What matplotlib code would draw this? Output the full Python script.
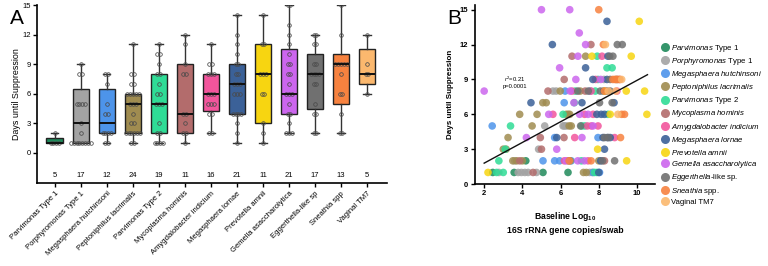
import numpy as np
import matplotlib
matplotlib.use("Agg")
import matplotlib.pyplot as plt
from matplotlib.lines import Line2D

plt.rcParams['font.family'] = ['Liberation Sans', 'DejaVu Sans']
plt.rcParams['mathtext.fontset'] = 'custom'
plt.rcParams['mathtext.rm'] = 'Liberation Sans'
plt.rcParams['mathtext.it'] = 'Liberation Sans:italic'
plt.rcParams['mathtext.bf'] = 'Liberation Sans:bold'

# ---- data ----
taxa = ['Parvimonas Type 1', 'Porphyromonas Type 1', 'Megasphaera hutchinsoni',
        'Peptoniphilus lacrimalis', 'Parvimonas Type 2', 'Mycoplasma hominis',
        'Amygdalobacter indicium', 'Megasphaera lornae', 'Prevotella amnii',
        'Gemella asaccharolytica', 'Eggerthella-like sp', 'Sneathia spp', 'Vaginal TM7']
legend_labels = [r'$\mathit{Parvimonas}$ Type 1', r'$\mathit{Porphyromonas}$ Type 1',
                 r'$\mathit{Megasphaera\ hutchinsoni}$', r'$\mathit{Peptoniphilus\ lacrimalis}$',
                 r'$\mathit{Parvimonas}$ Type 2', r'$\mathit{Mycoplasma\ hominis}$',
                 r'$\mathit{Amygdalobacter\ indicium}$', r'$\mathit{Megasphaera\ lornae}$',
                 r'$\mathit{Prevotella\ amnii}$', r'$\mathit{Gemella\ asaccharolytica}$',
                 r'$\mathit{Eggerthella}$-like sp.', r'$\mathit{Sneathia}$ spp.', 'Vaginal TM7']
counts = [5, 17, 12, 24, 19, 11, 16, 21, 11, 21, 17, 13, 5]
colors = ['#1f8a5b', '#a3a3a3', '#4d94ea', '#a08c50', '#2fdc96', '#b36c6c', '#f2559c',
          '#3b6198', '#f7d511', '#cc66ee', '#707070', '#f7823f', '#fbb86e']

# box stats: whisker low, q1, median, q3, whisker high
box_lo = [1, 1, 1, 1, 1, 1, 2, 1, 1, 2, 2, 2, 6]
box_q1 = [1, 1, 2, 2, 2, 2, 4.25, 4, 3, 4, 4.5, 5, 7]
box_med = [1, 3, 3, 5, 5, 4, 6, 7, 8, 6, 8, 9, 8]
box_q3 = [1.5, 6.5, 6.5, 6, 8, 9, 8, 9, 11, 10.5, 10, 10, 10.5]
box_hi = [2, 9, 8, 11, 11, 12, 11, 14, 14, 15, 12, 15, 12]

# days until suppression per woman, per taxon (panel A points, panel B y)
days = [
    [1, 1, 1, 1, 2],
    [9, 8, 8, 5, 5, 5, 5, 3, 2, 1, 1, 1, 1, 1, 1, 1, 1],
    [8, 8, 7, 5, 4, 4, 2, 2, 2, 2, 1, 1],
    [11, 8, 8, 7, 7, 6, 6, 6, 6, 6, 5, 5, 5, 4, 3, 3, 2, 2, 2, 2, 2, 2, 1, 1],
    [11, 10, 10, 9, 8, 8, 7, 6, 6, 5, 5, 5, 3, 2, 2, 1, 1, 1, 1],
    [12, 11, 9, 8, 8, 4, 4, 3, 2, 2, 1],
    [11, 9, 9, 8, 8, 8, 6, 6, 6, 5, 5, 5, 4, 4, 2, 2],
    [14, 12, 11, 10, 9, 9, 8, 8, 7, 7, 7, 6, 6, 6, 4, 4, 4, 4, 3, 2, 1],
    [14, 11, 11, 8, 8, 8, 6, 6, 3, 2, 1],
    [15, 15, 13, 12, 11, 10, 9, 9, 8, 8, 7, 6, 6, 6, 5, 4, 4, 3, 2, 2, 2],
    [12, 12, 11, 11, 9, 9, 8, 8, 8, 8, 7, 7, 5, 4, 4, 2, 2],
    [15, 12, 9, 9, 9, 9, 9, 8, 6, 6, 4, 2, 2],
    [12, 9, 8, 8, 6],
]
# baseline log10 16S copies/swab (panel B x), same order as days
baseline = [
    [2.45, 6.39, 3.57, 5.08, 4.18],
    [8.27, 5.6, 5.77, 5.17, 6.13, 6.3, 6.2, 4.85, 3.6, 2.77, 3.78, 4.13, 4.74, 4.3, 7.52, 7.65, 3.95],
    [6.24, 7.55, 6.19, 2.42, 5.69, 7.96, 5.08, 5.69, 5.95, 6.56, 8.04, 7.7],
    [7.31, 5.98, 7.03, 5.07, 5.25, 3.86, 4.77, 6.3, 6.48, 6.4, 4.51, 6.56, 6.45, 3.25, 3.0, 3.15,
     3.5, 3.7, 6.4, 6.5, 8.0, 4.0, 7.35, 7.2],
    [7.92, 8.43, 8.7, 7.96, 6.77, 7.82, 6.72, 6.13, 8.48, 3.38, 7.26, 7.1, 3.1, 2.77, 7.09, 7.78, 7.9, 2.65, 3.0],
    [7.59, 6.6, 6.19, 5.34, 7.29, 4.94, 6.18, 5.0, 3.86, 8.3, 4.56],
    [8.17, 7.83, 9.09, 6.6, 7.6, 8.95, 5.6, 7.26, 7.7, 7.61, 7.96, 7.4, 6.74, 8.83, 7.44, 6.2],
    [8.43, 5.57, 8.48, 7.31, 7.69, 8.43, 8.25, 8.43, 4.45, 7.12, 8.8, 8.13, 7.9, 8.3, 5.8, 8.22,
     8.45, 8.6, 8.3, 8.1, 8.0],
    [10.12, 7.64, 9.7, 9.44, 10.4, 8.3, 10.52, 8.6, 7.94, 9.46, 2.2],
    [5.0, 6.48, 6.98, 7.31, 6.91, 5.95, 6.8, 8.1, 2.0, 6.5, 6.7, 5.38, 7.0, 7.44, 7.7, 4.21, 7.12,
     5.8, 6.9, 7.25, 6.3],
    [8.97, 9.23, 8.57, 8.74, 8.6, 8.95, 6.9, 7.45, 8.08, 8.6, 8.04, 8.7, 7.05, 8.3, 8.5, 8.83, 8.2],
    [8.0, 8.24, 8.74, 8.85, 9.0, 8.9, 9.1, 8.3, 9.35, 9.2, 9.14, 6.45, 7.6],
    [8.35, 9.2, 8.9, 8.5, 9.0],
]
fit_intercept = 0.02
fit_slope = 0.89
fit_range = [2.0, 10.55]

# ---- figure ----
fig = plt.figure(figsize=(7.68, 2.66), dpi=100)
axA = fig.add_axes([0.048, 0.312, 0.456, 0.669])
axB = fig.add_axes([0.618, 0.308, 0.235, 0.673])

# panel A: box plots
stats = []
for i in range(len(taxa)):
    stats.append(dict(whislo=box_lo[i], q1=box_q1[i], med=box_med[i],
                      q3=box_q3[i], whishi=box_hi[i], label=taxa[i]))
bp = axA.bxp(stats, positions=np.arange(len(taxa)), widths=0.64, patch_artist=True,
             showfliers=False,
             boxprops=dict(linewidth=1.0, edgecolor='#222222'),
             medianprops=dict(color='#111111', linewidth=1.4),
             whiskerprops=dict(color='#333333', linewidth=1.0),
             capprops=dict(color='#333333', linewidth=1.0), capwidths=0.28)
for patch, c in zip(bp['boxes'], colors):
    patch.set_facecolor(c)

for i, vals in enumerate(days):
    vals = np.array(vals)
    for v in np.unique(vals):
        n = np.sum(vals == v)
        offs = (np.arange(n) - (n - 1) / 2) * 0.11
        axA.plot(i + offs, [v] * n, 'o', ms=2.6, mfc='none', mec='#4a4a4a', mew=0.55)
    axA.text(i, -2.3, str(counts[i]), ha='center', va='center', fontsize=5.5)

axA.set_xlim(-0.69, 12.77)
axA.set_ylim(-3.05, 15)
axA.set_yticks([0, 3, 6, 9, 12, 15])
axA.set_xticks(np.arange(len(taxa)))
axA.set_xticklabels(taxa, rotation=45, ha='right', rotation_mode='anchor', fontsize=5.5)
axA.tick_params(axis='y', labelsize=5.5, length=3, width=1, pad=1.5)
axA.tick_params(axis='x', length=3, width=1, pad=2)
axA.spines['top'].set_visible(False)
axA.spines['right'].set_visible(False)
axA.spines['left'].set_linewidth(1.2)
axA.spines['bottom'].set_linewidth(1.2)
axA.set_ylabel('Days until Suppression', fontsize=6.4, labelpad=1)
fig.text(0.013, 0.93, 'A', fontsize=15, va='center')

# panel B: scatter
for i in range(len(taxa)):
    axB.scatter(baseline[i], days[i], s=30, color=colors[i], alpha=0.85, edgecolors='none',
                zorder=2)
fx = np.array(fit_range)
axB.plot(fx, fit_intercept + fit_slope * fx, color='#111111', lw=1.0, zorder=3)
axB.text(3.6, 8.8, '$r^2$=0.21\np=0.0001', fontsize=4.2, ha='center', va='center',
         linespacing=1.1)

axB.set_xlim(1.5, 10.95)
axB.set_ylim(0, 15.4)
axB.set_xticks([2, 4, 6, 8, 10])
axB.set_yticks([0, 3, 6, 9, 12, 15])
axB.tick_params(axis='both', labelsize=5.5, length=3, width=1, pad=1.5)
for lab in axB.get_xticklabels() + axB.get_yticklabels():
    lab.set_fontweight('bold')
axB.spines['top'].set_visible(False)
axB.spines['right'].set_visible(False)
axB.spines['left'].set_linewidth(1.2)
axB.spines['bottom'].set_linewidth(1.2)
axB.set_ylabel('Days until Suppression', fontsize=5.8, fontweight='bold', labelpad=4)
axB.set_xlabel('Baseline Log$\\mathbf{_{10}}$\n16S rRNA gene copies/swab', fontsize=6.2,
               fontweight='bold', labelpad=9, linespacing=1.5)
fig.text(0.582, 0.93, 'B', fontsize=15, va='center')

handles = [Line2D([], [], marker='o', ls='none', ms=6.5, mfc=c, mec='none', alpha=0.9)
           for c in colors]
fig.legend(handles, legend_labels, loc='upper left', bbox_to_anchor=(0.861, 0.84),
           frameon=False, fontsize=5.6, labelspacing=0.28, handletextpad=0.3,
           handlelength=1.0, borderpad=0, borderaxespad=0)

fig.savefig('out.png', dpi=100)
